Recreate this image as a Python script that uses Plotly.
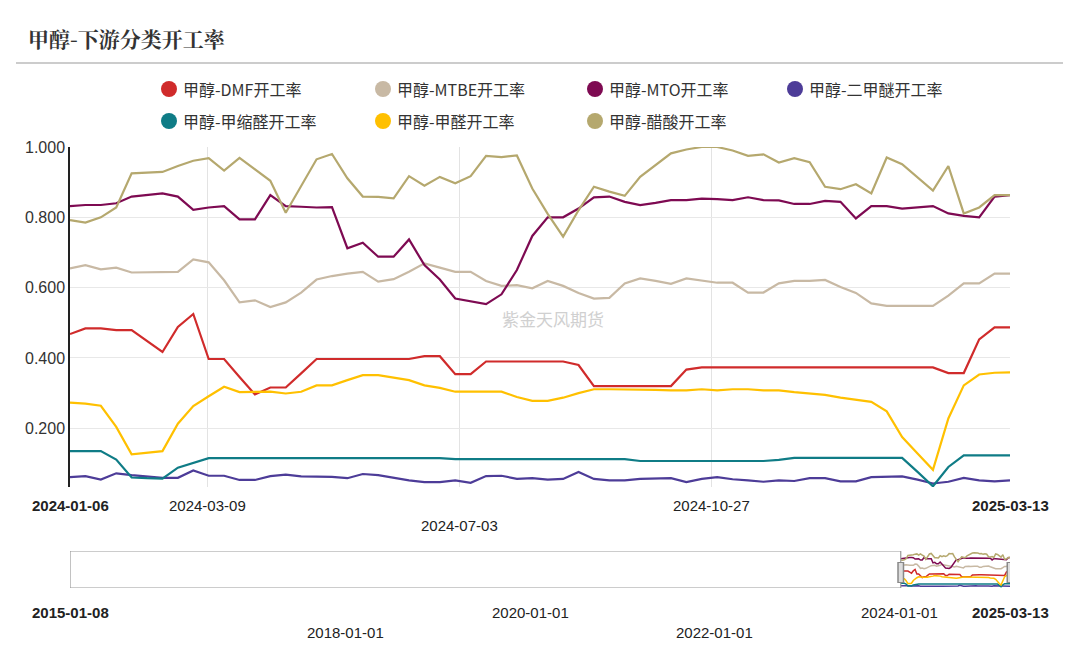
import plotly.graph_objects as go
import pandas as pd

dates = pd.date_range("2024-01-06", "2025-03-13", periods=62)

dmf = [.468,.484,.484,.479,.479,.449,.417,.488,.525,.397,.397,.346,.296,.316,.316,.356,.397,.397,.397,.397,.397,.397,.397,.405,.405,.354,.354,.39,.39,.39,.39,.39,
       .39,.38,.32,.32,.32,.32,.32,.32,.367,.373,.373,.373,.373,.373,.373,.373,.373,.373,.373,.373,.373,.373,.373,.373,.373,.357,.357,.453,.487,.487]
mtbe = [.655,.664,.652,.657,.643,.644,.645,.645,.68,.672,.621,.558,.564,.545,.558,.586,.623,.633,.64,.645,.617,.624,.645,.669,.657,.645,.645,.619,.605,.607,.598,.619,
        .605,.585,.569,.571,.612,.626,.619,.611,.626,.619,.614,.614,.586,.586,.612,.619,.619,.622,.602,.585,.555,.548,.548,.548,.548,.577,.612,.612,.64,.64]
mto = [.832,.835,.835,.84,.859,.863,.868,.859,.821,.828,.832,.794,.794,.863,.832,.83,.828,.829,.712,.728,.688,.688,.737,.664,.623,.569,.56,.553,.581,.65,.747,.80,
       .80,.825,.857,.859,.844,.835,.841,.849,.849,.853,.852,.849,.857,.849,.848,.838,.838,.847,.844,.797,.832,.832,.825,.828,.832,.811,.804,.80,.859,.863]
dme = [.061,.064,.054,.072,.067,.063,.059,.059,.08,.065,.065,.053,.053,.064,.068,.063,.063,.062,.058,.07,.067,.059,.052,.047,.047,.052,.045,.064,.065,.056,.058,.054,
       .056,.076,.056,.052,.052,.056,.058,.058,.047,.056,.061,.055,.052,.048,.052,.05,.058,.058,.049,.049,.061,.061,.063,.054,.043,.048,.059,.052,.049,.052]
pom = [.135,.135,.135,.111,.06,.058,.057,.088,.101,.115,.115,.115,.115,.115,.115,.115,.115,.115,.115,.115,.115,.115,.115,.115,.115,.112,.112,.112,.112,.112,.112,.112,
       .112,.112,.112,.112,.112,.107,.107,.107,.107,.107,.107,.107,.107,.107,.11,.116,.116,.116,.116,.116,.116,.116,.116,.076,.035,.09,.123,.123,.123,.123]
hcho = [.273,.27,.264,.204,.126,.131,.135,.213,.263,.291,.318,.303,.303,.304,.299,.304,.322,.322,.337,.351,.351,.344,.337,.322,.315,.304,.304,.305,.304,.289,.278,.278,
        .287,.30,.311,.311,.311,.311,.309,.308,.308,.311,.308,.311,.311,.308,.308,.303,.299,.295,.287,.282,.275,.248,.175,.128,.082,.228,.322,.353,.358,.359]
acetic = [.792,.785,.80,.828,.925,.927,.929,.946,.961,.968,.933,.969,.936,.904,.813,.887,.965,.98,.911,.859,.858,.854,.917,.89,.915,.897,.917,.975,.971,.976,.882,.81,
          .745,.82,.887,.873,.861,.915,.949,.982,.993,1.0,1.0,.99,.975,.979,.956,.968,.957,.887,.88,.894,.868,.97,.951,.913,.876,.946,.811,.828,.863,.863]

names = ["甲醇-DMF开工率","甲醇-MTBE开工率","甲醇-MTO开工率","甲醇-二甲醚开工率",
         "甲醇-甲缩醛开工率","甲醇-甲醛开工率","甲醇-醋酸开工率"]
colors = ["#D02B2B","#C8B9A4","#7E0A52","#4D3C98","#0F7C86","#FFC000","#B5A86E"]
series = [dmf, mtbe, mto, dme, pom, hcho, acetic]

fig = go.Figure()
for n, c, s in zip(names, colors, series):
    fig.add_trace(go.Scatter(x=dates, y=s, mode="lines", name=n, line=dict(color=c, width=2.2),
                             xaxis="x", yaxis="y"))
    fig.add_trace(go.Scatter(x=dates, y=s, mode="lines", line=dict(color=c, width=1.5),
                             xaxis="x2", yaxis="y2"))

OFF = 8  # page body margin
W, H = 1080, 650
L, R, T, B = 70 - OFF, W - 1010 + OFF, 147 - OFF, H - 588 + OFF
PH = H - T - B
PW = W - L - R
def py(p):  # reference pixel y -> paper y
    return (H - B - (p - OFF)) / PH
def px(p):
    return (p - OFF - L) / PW

lab_font = dict(family="Liberation Sans Narrow, Liberation Sans, Arial", size=15, color="#222")
main_ticks = ["2024-03-09", "2024-07-03", "2024-10-27"]

fig.update_layout(
    width=W, height=H, plot_bgcolor="white", paper_bgcolor="white", showlegend=False,
    margin=dict(l=L, r=R, t=T, b=B, autoexpand=False),
    font=dict(family="Noto Sans CJK SC", color="#333"),
    xaxis=dict(domain=[0, 1], range=[dates[0], dates[-1]], tickvals=main_ticks,
               showticklabels=False, showgrid=True, gridcolor="#e3e3e3", zeroline=False,
               showline=False, anchor="y"),
    yaxis=dict(domain=[py(487), 1], range=[0.033, 1.0], tickvals=[0.2, 0.4, 0.6, 0.8, 1.0],
               tickformat=".3f", showgrid=True, gridcolor="#e8e8e8", showline=True,
               linecolor="#222", linewidth=1.5, zeroline=False,
               tickfont=dict(family="Liberation Sans, Arial", size=16, color="#333")),
    xaxis2=dict(domain=[0, 1], range=["2015-01-08", "2025-03-13"], showticklabels=False,
                showgrid=False, zeroline=False, anchor="y2"),
    yaxis2=dict(domain=[0, py(551)], range=[0, 1.05], showticklabels=False, showgrid=False,
                zeroline=False),
)

ann = []
shapes = []
ann.append(dict(text="<b>甲醇-下游分类开工率</b>", xref="paper", yref="paper", x=px(26),
                y=py(38), xanchor="left", yanchor="middle", showarrow=False,
                font=dict(family="Noto Serif CJK SC, Noto Sans CJK SC", size=21, color="#333")))
ann.append(dict(text="紫金天风期货", xref="paper", yref="paper", x=px(553), y=py(318),
                showarrow=False, font=dict(size=17, color="#d0d0d0")))

leg_pos = [(169, 89), (383, 89), (595, 89), (795, 89), (169, 121), (383, 121), (595, 121)]
for (lx, ly), n, c in zip(leg_pos, names, colors):
    shapes.append(dict(type="circle", xref="paper", yref="paper", xsizemode="pixel",
                       ysizemode="pixel", xanchor=px(lx), yanchor=py(ly),
                       x0=-8, x1=8, y0=-8, y1=8, fillcolor=c, line=dict(width=0)))
    ann.append(dict(text=n, xref="paper", yref="paper", x=px(lx + 12), y=py(ly),
                    xanchor="left", yanchor="middle", showarrow=False,
                    font=dict(size=16, color="#333")))

def lab(t, x, y, bold=False, xref="x"):
    ann.append(dict(text=f"<b>{t}</b>" if bold else t, x=x, y=y, xref=xref, yref="paper",
                    xanchor="center", yanchor="middle", showarrow=False, font=lab_font))
lab("2024-01-06", 0, py(505), True, "paper")
lab("2024-03-09", "2024-03-09", py(505))
lab("2024-07-03", "2024-07-03", py(525))
lab("2024-10-27", "2024-10-27", py(505))
lab("2025-03-13", 1, py(505), True, "paper")
lab("2015-01-08", 0, py(612), True, "paper")
lab("2025-03-13", 1, py(612), True, "paper")
for t, row in [("2018-01-01", 632), ("2020-01-01", 612), ("2022-01-01", 632), ("2024-01-01", 612)]:
    lab(t, t, py(row), False, "x2")
fig.update_layout(annotations=ann)

shapes += [
    dict(type="line", xref="paper", yref="paper", x0=px(16), x1=px(1063), y0=py(63), y1=py(63),
         line=dict(color="#bbb", width=1.5)),
    dict(type="rect", xref="x2", yref="y2", x0="2015-01-08", x1=dates[0], y0=0, y1=1.05,
         line=dict(color="#999", width=1.2), fillcolor="rgba(255,255,255,0.75)", layer="above"),
]
for d in [dates[0], dates[-1]]:
    shapes.append(dict(type="line", xref="x2", yref="paper", x0=d, x1=d, y0=py(583), y1=py(562),
                       line=dict(color="#888", width=7), layer="above"))
    shapes.append(dict(type="line", xref="x2", yref="paper", x0=d, x1=d, y0=py(582), y1=py(563),
                       line=dict(color="#ddd", width=4), layer="above"))
fig.update_layout(shapes=shapes)

fig.write_html("out.html")
